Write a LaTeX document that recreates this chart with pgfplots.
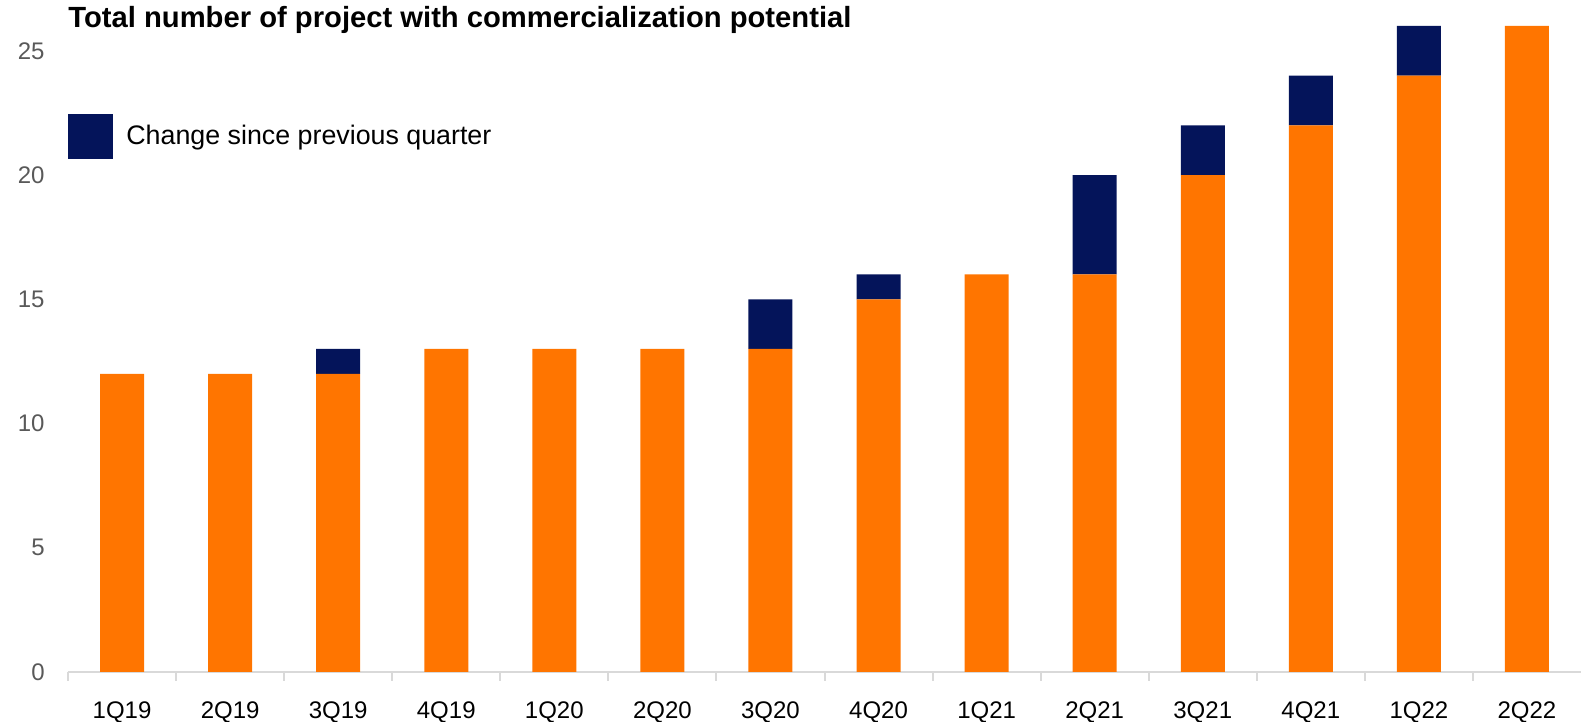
\documentclass[border=0pt]{standalone}
\usepackage{pgfplots}
\pgfplotsset{compat=1.18}
\usepackage{fontspec}
\setmainfont{Liberation Sans}
\definecolor{orng}{HTML}{FF7500}
\definecolor{navy}{HTML}{04145A}
\definecolor{gridc}{HTML}{D9D9D9}
\definecolor{lab}{HTML}{595959}
\begin{document}
\begin{tikzpicture}
\begin{axis}[
  scale only axis,
  width=756.5pt, height=323pt,
  xmin=-0.5, xmax=13.5, ymin=0, ymax=26,
  ybar stacked, bar width=22pt,
  axis x line*=bottom, axis y line=none,
  x axis line style={gridc, line width=1pt, -},
  xtick={0,...,13},
  xticklabels={1Q19,2Q19,3Q19,4Q19,1Q20,2Q20,3Q20,4Q20,1Q21,2Q21,3Q21,4Q21,1Q22,2Q22},
  major x tick style={draw=none},
  minor xtick={-0.5,0.5,...,12.5},
  minor x tick style={gridc, line width=1pt},
  minor tick length=4.5pt,
  tick align=outside,
  xticklabel style={font=\fontsize{12}{14}\selectfont, text=black, yshift=-7pt},
  ytick={0,5,...,25},
  ymajorgrids, grid style={gridc, line width=1pt},
  /pgf/number format/assume math mode=true,
  legend style={at={(0,0.829)}, anchor=west, draw=none, fill=none, inner sep=0pt,
    font=\fontsize{13.4}{15}\selectfont, column sep=0pt},
  legend image code/.code={\fill[navy] (0pt,-11.25pt) rectangle (22.5pt,11.25pt);},
  clip=false,
]
\addplot[fill=orng, draw=none, forget plot] coordinates {(0,12) (1,12) (2,12) (3,13) (4,13) (5,13) (6,13) (7,15) (8,16) (9,16) (10,20) (11,22) (12,24) (13,26)};
\addplot[fill=navy, draw=none] coordinates {(0,0) (1,0) (2,1) (3,0) (4,0) (5,0) (6,2) (7,1) (8,0) (9,4) (10,2) (11,2) (12,2) (13,0)};
\addlegendentry{\hspace{4.5pt}Change since previous quarter}
\node[anchor=base west, inner sep=0pt, font=\bfseries\fontsize{14.6}{16}\selectfont] at (rel axis cs:0,1) [yshift=-1pt] {Total number of project with commercialization potential};
\foreach \v in {0,5,...,25} {
  \edef\tmp{\noexpand\node[anchor=east, inner sep=0pt, text=lab, font=\noexpand\fontsize{12}{14}\noexpand\selectfont] at (axis cs:-0.5,\v) [xshift=-11.5pt] {\v};}
  \tmp
}
\coordinate (O) at (rel axis cs:0,0);
\end{axis}
\pgfresetboundingbox
\path[use as bounding box] ([xshift=-34pt,yshift=-25pt]O) rectangle ([xshift=756.5pt, yshift=336pt]O);
\end{tikzpicture}
\end{document}
